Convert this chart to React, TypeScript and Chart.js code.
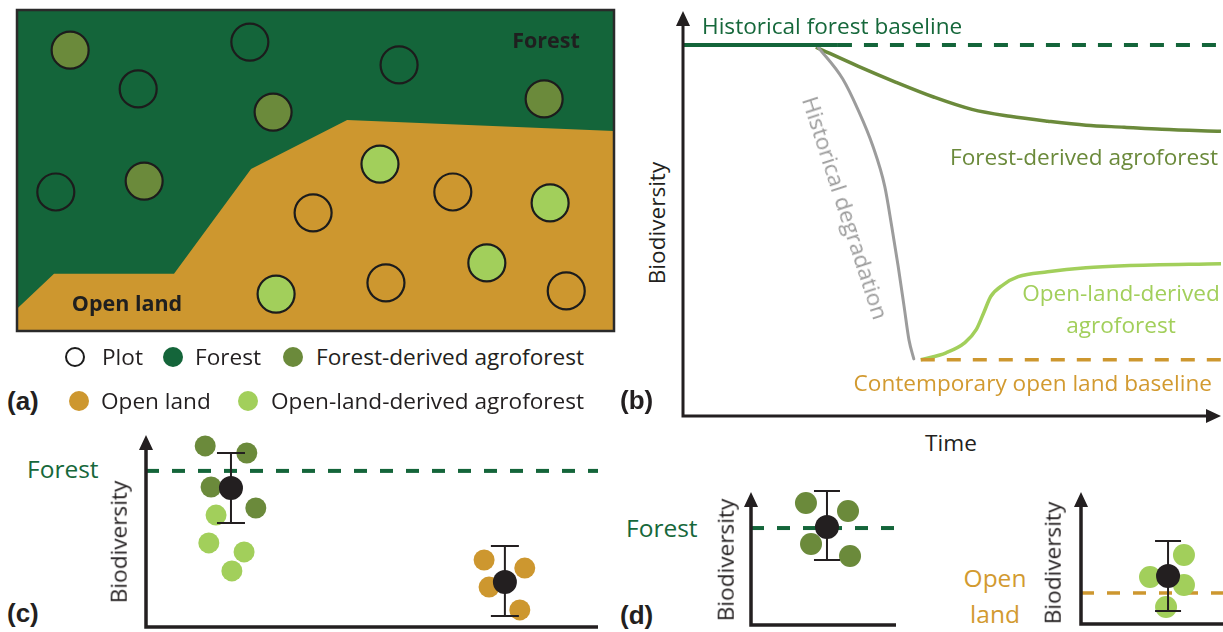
import React, { useEffect, useRef } from "react";
import { Chart, registerables } from "chart.js";

Chart.register(...registerables);

// ---------------- DATA ----------------
// Panel (a): landscape map (units 0-100 on both axes)
const openLandEdgeX = [0, 6.2, 26.3, 39.2, 55.3, 100];
const openLandEdgeY = [6.9, 17.8, 17.8, 50.5, 65.7, 62.3];
const plotX = [8.9, 39.0, 20.3, 64.0, 42.9, 88.3, 6.5, 21.3, 60.8, 73.0, 89.3, 49.6, 43.4, 61.8, 78.7, 92.0];
const plotY = [87.5, 90.0, 75.4, 82.9, 68.2, 72.3, 43.3, 46.7, 52.0, 43.3, 39.9, 36.8, 11.5, 15.0, 21.2, 12.5];
const plotKind = ["forestAgro", "plot", "plot", "plot", "forestAgro", "forestAgro", "plot", "forestAgro",
  "openAgro", "plot", "openAgro", "plot", "openAgro", "plot", "openAgro", "plot"];

// Panel (b): biodiversity over time (units 0-100)
const forestBaseSolidX = [0, 28.8];
const forestBaseSolidY = [91.6, 91.6];
const forestBaseDashX = [28.8, 100];
const forestBaseDashY = [91.6, 91.6];
const forestAgroX = [24.7, 32.5, 39.6, 46.7, 53.7, 60.8, 67.8, 74.9, 82.0, 89.0, 100];
const forestAgroY = [91.1, 86.4, 82.4, 78.7, 75.7, 74.0, 72.8, 71.8, 71.3, 70.8, 70.3];
const degradationX = [25.1, 29.7, 32.5, 35.3, 37.5, 38.8, 40.0, 41.1, 42.0, 42.9];
const degradationY = [91.1, 83.2, 75.7, 66.6, 56.7, 46.8, 36.9, 27.0, 18.8, 14.1];
const openAgroX = [44.2, 48.9, 52.4, 54.5, 55.9, 57.2, 59.5, 62.3, 67.8, 74.9, 82.0, 100];
const openAgroY = [13.9, 15.6, 18.1, 21.3, 25.5, 29.5, 32.4, 34.4, 35.6, 36.6, 37.1, 37.6];
const openBaseX = [44.2, 100];
const openBaseY = [13.9, 13.9];

// Panel (c): plots compared to forest baseline
const cForestLineY = 81.3;
const cForestAgroX = [13.1, 22.3, 14.4, 24.3];
const cForestAgroY = [94.3, 90.6, 72.9, 62.0];
const cOpenAgroX = [15.5, 13.9, 21.7, 19.0];
const cOpenAgroY = [58.3, 43.8, 39.1, 29.2];
const cOpenLandX = [74.8, 83.8, 75.9, 82.7];
const cOpenLandY = [34.9, 30.7, 20.8, 8.9];
const cMeanX = [18.8, 79.4];
const cMeanY = [72.4, 23.4];
const cLow = [54.2, 5.7];
const cHigh = [90.6, 42.2];

// Panel (d) left: forest-derived agroforest vs forest
const dlForestLineY = 72.9;
const dlAgroX = [37.9, 66.9, 41.4, 68.3];
const dlAgroY = [91.7, 85.7, 60.9, 51.9];
const dlMeanX = [52.4];
const dlMeanY = [73.7];
const dlLow = [48.9];
const dlHigh = [100.8];

// Panel (d) right: open-land-derived agroforest vs open land
const drOpenLineY = 23.5;
const drAgroX = [72.5, 48.6, 72.5, 59.9];
const drAgroY = [52.3, 35.6, 29.5, 12.9];
const drMeanX = [61.3];
const drMeanY = [36.4];
const drLow = [9.8];
const drHigh = [62.9];

// ---------------- STYLE ----------------
const C = {
  forest: "#14653a",
  forestText: "#16683b",
  olive: "#6b8a3b",
  light: "#a2cf5b",
  orange: "#cd972f",
  orangeText: "#d29a30",
  gray: "#9c9c9c",
  ink: "#231f20",
};
const FONT = "'Open Sans', Lato, sans-serif";
const LABEL_FONT = "'Liberation Sans', Arial, sans-serif";

const pts = (xs: number[], ys: number[]) => xs.map((x, i) => ({ x, y: ys[i] }));
const hline = (y: number) => [{ x: 0, y }, { x: 100, y }];

// ---------------- PLUGINS ----------------
function arrowAxes(opts: { width: number; head: number; hw: number; xArrow: boolean }) {
  return {
    id: "arrowAxes",
    afterDatasetsDraw(chart: any) {
      const { ctx, chartArea: a } = chart;
      ctx.save();
      ctx.strokeStyle = C.ink;
      ctx.fillStyle = C.ink;
      ctx.lineWidth = opts.width;
      ctx.lineJoin = "miter";
      ctx.lineCap = "butt";
      ctx.beginPath();
      ctx.moveTo(a.left, a.top + opts.head - 1);
      ctx.lineTo(a.left, a.bottom);
      ctx.lineTo(opts.xArrow ? a.right - opts.head + 1 : a.right, a.bottom);
      ctx.stroke();
      ctx.beginPath();
      ctx.moveTo(a.left, a.top);
      ctx.lineTo(a.left - opts.hw, a.top + opts.head);
      ctx.lineTo(a.left + opts.hw, a.top + opts.head);
      ctx.closePath();
      ctx.fill();
      if (opts.xArrow) {
        ctx.beginPath();
        ctx.moveTo(a.right, a.bottom);
        ctx.lineTo(a.right - opts.head, a.bottom - opts.hw);
        ctx.lineTo(a.right - opts.head, a.bottom + opts.hw);
        ctx.closePath();
        ctx.fill();
      }
      ctx.restore();
    },
  };
}

function errorBars(meanIndex: number, xs: number[], lo: number[], hi: number[], cap: number) {
  return {
    id: "errorBars",
    beforeDatasetDraw(chart: any, args: any) {
      if (args.index !== meanIndex) return;
      const { ctx, scales } = chart;
      ctx.save();
      ctx.strokeStyle = C.ink;
      ctx.lineWidth = 2;
      xs.forEach((x, i) => {
        const px = scales.x.getPixelForValue(x);
        const y1 = scales.y.getPixelForValue(lo[i]);
        const y2 = scales.y.getPixelForValue(hi[i]);
        ctx.beginPath();
        ctx.moveTo(px, y1);
        ctx.lineTo(px, y2);
        ctx.moveTo(px - cap, y1);
        ctx.lineTo(px + cap, y1);
        ctx.moveTo(px - cap, y2);
        ctx.lineTo(px + cap, y2);
        ctx.stroke();
      });
      ctx.restore();
    },
  };
}

const mapFrame = {
  id: "mapFrame",
  beforeDatasetsDraw(chart: any) {
    const { ctx, chartArea: a } = chart;
    ctx.save();
    ctx.fillStyle = C.forest;
    ctx.fillRect(a.left, a.top, a.right - a.left, a.bottom - a.top);
    ctx.restore();
  },
  afterDatasetsDraw(chart: any) {
    const { ctx, chartArea: a } = chart;
    ctx.save();
    ctx.strokeStyle = "#2a2a2a";
    ctx.lineWidth = 2.5;
    ctx.strokeRect(a.left, a.top, a.right - a.left, a.bottom - a.top);
    ctx.restore();
  },
};

// ---------------- HELPERS ----------------
function baseOptions(pad: number) {
  return {
    animation: false,
    responsive: false,
    events: [],
    layout: { padding: pad, autoPadding: false },
    plugins: { legend: { display: false }, tooltip: { enabled: false }, title: { display: false } },
    scales: {
      x: { type: "linear", min: 0, max: 100, display: false },
      y: { type: "linear", min: 0, max: 100, display: false },
    },
    elements: { line: { tension: 0 } },
  };
}

function lineDs(data: any[], color: string, width: number, extra: any = {}) {
  return {
    data,
    borderColor: color,
    borderWidth: width,
    pointRadius: 0,
    fill: false,
    clip: false,
    showLine: true,
    order: 5,
    ...extra,
  };
}

function dotDs(data: any[], color: string, r: number, extra: any = {}) {
  return {
    data,
    showLine: false,
    pointRadius: r,
    pointBackgroundColor: color,
    pointBorderWidth: 0,
    pointBorderColor: color,
    clip: false,
    order: 2,
    ...extra,
  };
}

function ChartBox(props: { left: number; top: number; width: number; height: number; pad: number; make: () => any }) {
  const ref = useRef<HTMLCanvasElement | null>(null);
  const { left, top, width, height, pad, make } = props;
  useEffect(() => {
    if (!ref.current) return;
    const chart = new Chart(ref.current, make());
    return () => chart.destroy();
  }, []);
  const w = width + 2 * pad;
  const h = height + 2 * pad;
  return (
    <canvas
      ref={ref}
      width={w}
      height={h}
      style={{ position: "absolute", left: left - pad, top: top - pad, width: w, height: h }}
    />
  );
}

type LabelProps = {
  x: number;
  y: number;
  text: React.ReactNode;
  size?: number;
  color?: string;
  bold?: boolean;
  align?: "left" | "center" | "right";
  rotate?: number;
  font?: string;
};
function Label({ x, y, text, size = 22.6, color = C.ink, bold = false, align = "left", rotate = 0, font = FONT }: LabelProps) {
  const tx = align === "left" ? "0%" : align === "center" ? "-50%" : "-100%";
  return (
    <div
      style={{
        position: "absolute",
        left: x,
        top: y,
        transform: `translate(${tx}, -50%) rotate(${rotate}deg)`,
        transformOrigin: "center center",
        fontFamily: font,
        fontSize: size,
        fontWeight: bold ? 700 : 400,
        color,
        lineHeight: 1,
        whiteSpace: "nowrap",
        textAlign: "center",
      }}
    >
      {text}
    </div>
  );
}

function Dot({ x, y, r, fill, border }: { x: number; y: number; r: number; fill: string; border?: string }) {
  return (
    <div
      style={{
        position: "absolute",
        left: x - r,
        top: y - r,
        width: 2 * r,
        height: 2 * r,
        borderRadius: "50%",
        background: fill,
        boxSizing: "border-box",
        border: border ? `2px solid ${border}` : "none",
      }}
    />
  );
}

// ---------------- CHART CONFIGS ----------------
const kindColor: Record<string, string> = { plot: "rgba(0,0,0,0)", forestAgro: C.olive, openAgro: C.light };

function makeMap() {
  const o: any = baseOptions(4);
  const datasets: any[] = [
    lineDs(pts(openLandEdgeX, openLandEdgeY), C.orange, 0, { fill: "start", backgroundColor: C.orange, order: 9 }),
  ];
  ["plot", "forestAgro", "openAgro"].forEach((k) => {
    const xs: number[] = [];
    const ys: number[] = [];
    plotKind.forEach((kind, i) => {
      if (kind === k) {
        xs.push(plotX[i]);
        ys.push(plotY[i]);
      }
    });
    datasets.push(dotDs(pts(xs, ys), kindColor[k], 18.5, { pointBorderWidth: 2.2, pointBorderColor: "#1c1c1c" }));
  });
  return { type: "line", data: { datasets }, options: o, plugins: [mapFrame] };
}

function makeB() {
  const o: any = baseOptions(10);
  const datasets = [
    lineDs(pts(forestBaseSolidX, forestBaseSolidY), C.forest, 4),
    lineDs(pts(forestBaseDashX, forestBaseDashY), C.forest, 4, { borderDash: [14, 12] }),
    lineDs(pts(openBaseX, openBaseY), C.orange, 3.5, { borderDash: [14, 12] }),
    lineDs(pts(degradationX, degradationY), C.gray, 3, { cubicInterpolationMode: "monotone", borderCapStyle: "round" }),
    lineDs(pts(forestAgroX, forestAgroY), C.olive, 3.5, { cubicInterpolationMode: "monotone" }),
    lineDs(pts(openAgroX, openAgroY), C.light, 3.5, { cubicInterpolationMode: "monotone" }),
  ];
  return {
    type: "line",
    data: { datasets },
    options: o,
    plugins: [arrowAxes({ width: 3, head: 15, hw: 7, xArrow: true })],
  };
}

function makeC() {
  const o: any = baseOptions(14);
  const datasets = [
    dotDs(pts(cMeanX, cMeanY), C.ink, 12, { order: 0 }),
    dotDs(pts(cForestAgroX, cForestAgroY), C.olive, 10.5),
    dotDs(pts(cOpenAgroX, cOpenAgroY), C.light, 10.5),
    dotDs(pts(cOpenLandX, cOpenLandY), C.orange, 10.5),
    lineDs(hline(cForestLineY), C.forest, 4, { borderDash: [13, 13] }),
  ];
  return {
    type: "line",
    data: { datasets },
    options: o,
    plugins: [arrowAxes({ width: 3.5, head: 15, hw: 7, xArrow: false }), errorBars(0, cMeanX, cLow, cHigh, 14)],
  };
}

function makeDL() {
  const o: any = baseOptions(14);
  const datasets = [
    dotDs(pts(dlMeanX, dlMeanY), C.ink, 12, { order: 0 }),
    dotDs(pts(dlAgroX, dlAgroY), C.olive, 11),
    lineDs(hline(dlForestLineY), C.forest, 4, { borderDash: [13, 13] }),
  ];
  return {
    type: "line",
    data: { datasets },
    options: o,
    plugins: [arrowAxes({ width: 3.5, head: 15, hw: 7, xArrow: false }), errorBars(0, dlMeanX, dlLow, dlHigh, 13)],
  };
}

function makeDR() {
  const o: any = baseOptions(14);
  const datasets = [
    dotDs(pts(drMeanX, drMeanY), C.ink, 12, { order: 0 }),
    dotDs(pts(drAgroX, drAgroY), C.light, 11),
    lineDs(hline(drOpenLineY), C.orange, 3.5, { borderDash: [13, 13] }),
  ];
  return {
    type: "line",
    data: { datasets },
    options: o,
    plugins: [arrowAxes({ width: 3.5, head: 15, hw: 7, xArrow: false }), errorBars(0, drMeanX, drLow, drHigh, 13)],
  };
}

// ---------------- APP ----------------
export default function App() {
  useEffect(() => {
    document.body.style.margin = "0";
    document.body.style.background = "#ffffff";
  }, []);
  return (
    <div style={{ position: "relative", width: 1223, height: 632, overflow: "hidden", background: "#fff" }}>
      {/* Panel (a) */}
      <ChartBox left={17} top={10} width={597} height={321} pad={4} make={makeMap} />
      <Label x={546} y={40} text="Forest" bold size={21.5} color="#1f1f1f" align="center" />
      <Label x={127} y={303} text="Open land" bold size={21.5} color="#1f1f1f" align="center" />
      <Dot x={75} y={357} r={10} fill="#ffffff" border="#1c1c1c" />
      <Label x={102} y={357} text="Plot" />
      <Dot x={173} y={357} r={10} fill={C.forest} />
      <Label x={195} y={357} text="Forest" />
      <Dot x={293} y={357} r={10} fill={C.olive} />
      <Label x={316} y={357} text="Forest-derived agroforest" />
      <Label x={7} y={401} text="(a)" bold size={26} font={LABEL_FONT} />
      <Dot x={79} y={401} r={10} fill={C.orange} />
      <Label x={101} y={401} text="Open land" />
      <Dot x={248} y={401} r={10} fill={C.light} />
      <Label x={271} y={401} text="Open-land-derived agroforest" />

      {/* Panel (b) */}
      <ChartBox left={683} top={11} width={538} height={405} pad={10} make={makeB} />
      <Label x={702} y={26} text="Historical forest baseline" color={C.forestText} />
      <Label x={1218} y={157} text="Forest-derived agroforest" color={C.olive} align="right" />
      <Label x={845} y={208} text="Historical degradation" color={C.gray} align="center" rotate={72} />
      <Label x={1121} y={293} text="Open-land-derived" color={C.light} align="center" />
      <Label x={1121} y={325} text="agroforest" color={C.light} align="center" />
      <Label x={1212} y={383} text="Contemporary open land baseline" color={C.orangeText} align="right" />
      <Label x={657} y={223} text="Biodiversity" align="center" rotate={-90} />
      <Label x={951} y={443} text="Time" align="center" />
      <Label x={620} y={400} text="(b)" bold size={26} font={LABEL_FONT} />

      {/* Panel (c) */}
      <ChartBox left={146} top={435} width={452} height={192} pad={14} make={makeC} />
      <Label x={27} y={469} text="Forest" color={C.forestText} size={24.5} />
      <Label x={119} y={542} text="Biodiversity" align="center" rotate={-90} />
      <Label x={7} y={613} text="(c)" bold size={26} font={LABEL_FONT} />

      {/* Panel (d) */}
      <ChartBox left={751} top={492} width={145} height={133} pad={14} make={makeDL} />
      <Label x={626} y={528} text="Forest" color={C.forestText} size={24.5} />
      <Label x={726} y={560} text="Biodiversity" align="center" rotate={-90} />
      <Label x={620} y={615} text="(d)" bold size={26} font={LABEL_FONT} />

      <ChartBox left={1081} top={492} width={142} height={132} pad={14} make={makeDR} />
      <Label x={995} y={578} text="Open" color={C.orangeText} size={24.5} align="center" />
      <Label x={995} y={614} text="land" color={C.orangeText} size={24.5} align="center" />
      <Label x={1053} y={563} text="Biodiversity" align="center" rotate={-90} />
    </div>
  );
}
